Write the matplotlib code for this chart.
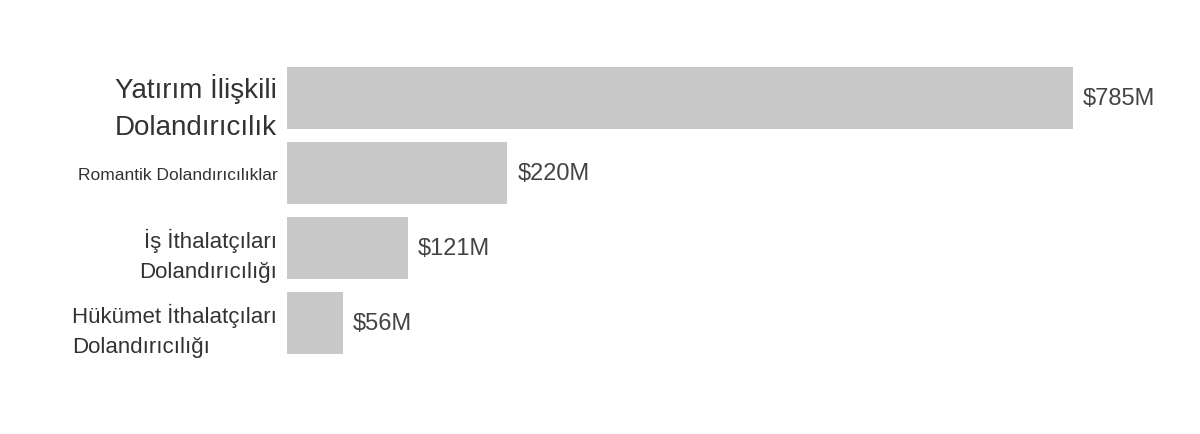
import matplotlib.pyplot as plt

# data
categories = ['Yatırım İlişkili\nDolandırıcılık', 'Romantik Dolandırıcılıklar',
              'İş İthalatçıları\nDolandırıcılığı', 'Hükümet İthalatçıları\nDolandırıcılığı']
values = [785, 220, 121, 56]
value_labels = ['$785M', '$220M', '$121M', '$56M']
label_sizes = [20, 12.5, 16, 16]
label_align = ['right', 'right', 'right', 'left']

fig = plt.figure(figsize=(12, 4.35), dpi=100)
ax = fig.add_axes([287 / 1200, 0, 913 / 1200, 1])

pos = list(range(len(values)))
ax.barh(pos, values, height=0.827, color='#c8c8c8')
ax.set_xlim(0, 913 * 785 / 786)
ax.set_ylim((435 - 99) / 75, -99 / 75)

for p, v, lab in zip(pos, values, value_labels):
    ax.text(v + 10, p, lab, va='center', ha='left', fontsize=17, color='#444444',
            family='Liberation Sans')

ax.set_yticks(pos)
ax.set_yticklabels(categories)
for t, s, a in zip(ax.get_yticklabels(), label_sizes, label_align):
    t.set_fontsize(s)
    t.set_color('#333333')
    t.set_family('Liberation Sans')
    t.set_linespacing(1.55)
    t.set_multialignment(a)
ax.tick_params(axis='y', length=0, pad=7)
ax.set_xticks([])
for sp in ax.spines.values():
    sp.set_visible(False)

fig.savefig('out.png', dpi=100)
